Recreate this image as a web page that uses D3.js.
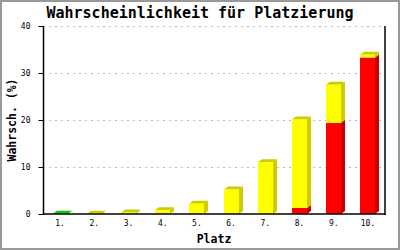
<!DOCTYPE html>
<style>
body { margin: 0; }
text { font-family: "DejaVu Sans Mono", monospace; }
.tick text { font-size: 8px; }
</style>
<svg width="400" height="250"></svg>
<script src="https://d3js.org/d3.v7.min.js"></script>
<script>
var places = ["1.", "2.", "3.", "4.", "5.", "6.", "7.", "8.", "9.", "10."];
var greenVals  = [0.05, 0, 0, 0, 0, 0, 0, 0, 0, 0];
var redVals    = [0, 0, 0, 0, 0, 0, 0, 1.3, 19.4, 33.3];
var yellowVals = [0, 0.05, 0.3, 0.8, 2.2, 5.2, 11.0, 18.8, 8.1, 0.6];
var yTicks = [0, 10, 20, 30, 40];

var series = [
  {vals: greenVals, front: "#00ff00", dark: "#00cc00"},
  {vals: redVals, front: "#ff0000", dark: "#cc0000"},
  {vals: yellowVals, front: "#ffff00", dark: "#cccc00"}
];

var svg = d3.select("svg");
var plotL = 43, plotR = 385, plotT = 26, plotB = 214;
var depthX = 4, depthY = 3;

svg.append("rect").attr("x", 0).attr("y", 0).attr("width", 400).attr("height", 250)
  .attr("fill", "#fff");

var x = d3.scaleBand().domain(places).range([plotL, plotR]).padding(0);
var y = d3.scaleLinear().domain([0, 40]).range([plotB, plotT]);
var bw = 15;

// grid
svg.append("g").selectAll("line").data(yTicks.slice(1)).enter().append("line")
  .attr("x1", plotL).attr("x2", plotR)
  .attr("y1", function(d) { return Math.round(y(d)) + 0.5; })
  .attr("y2", function(d) { return Math.round(y(d)) + 0.5; })
  .attr("stroke", "#bbb").attr("stroke-dasharray", "2,4");

// stacked 3d bars
var segs = [];
places.forEach(function(p, i) {
  var base = 0, last = null;
  series.forEach(function(s) {
    var v = s.vals[i];
    if (v > 0) {
      last = {p: p, y0: base, y1: base + v, s: s, top: false};
      segs.push(last);
      base += v;
    }
  });
  if (last) last.top = true;
});

var bars = svg.append("g");
segs.forEach(function(d) {
  var x0 = Math.round(x(d.p) + x.bandwidth() / 2 - bw / 2);
  var x1 = x0 + bw;
  var yb = y(d.y0), yt = y(d.y1);
  // side
  bars.append("polygon")
    .attr("points", [[x1, yb], [x1 + depthX, yb - depthY], [x1 + depthX, yt - depthY], [x1, yt]].join(" "))
    .attr("fill", d.s.dark);
  if (d.top) {
    bars.append("polygon")
      .attr("points", [[x0, yt], [x0 + depthX, yt - depthY], [x1 + depthX, yt - depthY], [x1, yt]].join(" "))
      .attr("fill", d.s.dark);
  }
  bars.append("rect")
    .attr("x", x0).attr("y", yt)
    .attr("width", bw).attr("height", Math.max(0, yb - yt))
    .attr("fill", d.s.front);
});

// axes
var yAxis = svg.append("g").attr("transform", "translate(" + (plotL + 0.5) + ",0)")
  .call(d3.axisLeft(y).tickValues(yTicks).tickSize(5).tickPadding(8));
yAxis.select(".domain").remove();
yAxis.selectAll(".tick line").attr("stroke", "#000");
yAxis.selectAll(".tick text").attr("fill", "#000");
svg.append("line").attr("x1", plotL + 0.5).attr("x2", plotL + 0.5).attr("y1", plotT).attr("y2", plotB + 1)
  .attr("stroke", "#000").attr("stroke-width", 1.5);
svg.append("line").attr("x1", plotR).attr("x2", plotR).attr("y1", plotT).attr("y2", plotB + 1)
  .attr("stroke", "#000").attr("stroke-width", 1.5);
svg.append("line").attr("x1", plotL).attr("x2", plotR + 0.5).attr("y1", plotB).attr("y2", plotB)
  .attr("stroke", "#000").attr("stroke-width", 1.5);

var xAxis = svg.append("g").attr("transform", "translate(0," + plotB + ")")
  .call(d3.axisBottom(x).tickSize(0).tickPadding(8));
xAxis.select(".domain").remove();
xAxis.selectAll(".tick text").attr("fill", "#000").attr("dy", "0.5em");

// titles
svg.append("text").attr("x", 200).attr("y", 18).attr("text-anchor", "middle")
  .attr("font-size", "15px").attr("font-weight", "bold")
  .text("Wahrscheinlichkeit für Platzierung");
svg.append("text").attr("x", (plotL + plotR) / 2).attr("y", 243).attr("text-anchor", "middle")
  .attr("font-size", "11.5px").attr("font-weight", "bold").text("Platz");
svg.append("text").attr("transform", "translate(16," + ((plotT + plotB) / 2) + ") rotate(-90)")
  .attr("text-anchor", "middle")
  .attr("font-size", "11.5px").attr("font-weight", "bold").text("Wahrsch. (%)");

// frame
svg.append("rect").attr("x", 1).attr("y", 1).attr("width", 398).attr("height", 248)
  .attr("fill", "none").attr("stroke", "#999").attr("stroke-width", 2);
</script>
